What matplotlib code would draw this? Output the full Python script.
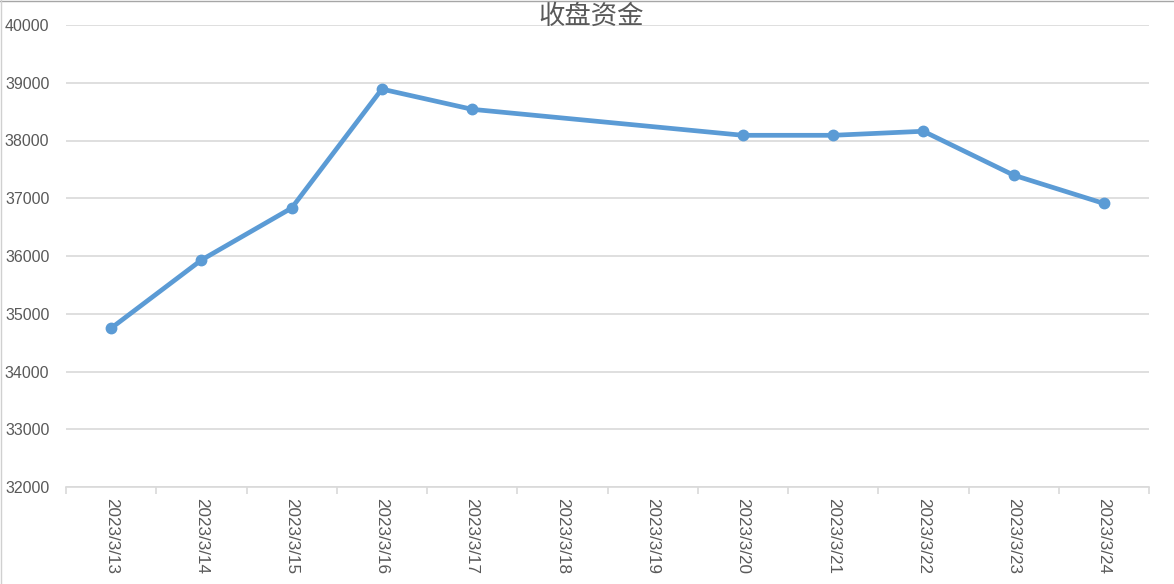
import matplotlib
matplotlib.use("Agg")
import matplotlib.pyplot as plt
from matplotlib.lines import Line2D
from matplotlib.ticker import FixedLocator, NullFormatter

plt.rcParams['font.family'] = ['Liberation Sans', 'Noto Sans CJK SC', 'DejaVu Sans']

title = "收盘资金"
dates = ["2023/3/13", "2023/3/14", "2023/3/15", "2023/3/16", "2023/3/17", "2023/3/18",
         "2023/3/19", "2023/3/20", "2023/3/21", "2023/3/22", "2023/3/23", "2023/3/24"]
values = [34750, 35930, 36830, 38890, 38540, None, None, 38090, 38090, 38160, 37400, 36910]
y_ticks = [32000, 33000, 34000, 35000, 36000, 37000, 38000, 39000, 40000]

W, H = 1174, 584
fig = plt.figure(figsize=(W / 100, H / 100), dpi=100)
ax = fig.add_axes([66 / W, 1 - 487 / H, (1149 - 66) / W, (487 - 25) / H])

xs = [i for i, v in enumerate(values) if v is not None]
ys = [v for v in values if v is not None]
ax.plot(xs, ys, color='#5b9bd5', linewidth=3.4, marker='o', markersize=7.5,
        solid_capstyle='round', solid_joinstyle='round', zorder=3)

ax.set_xlim(-0.5, len(dates) - 0.5)
ax.set_ylim(y_ticks[0], y_ticks[-1])
ax.set_yticks(y_ticks)
ax.set_yticklabels([str(t) for t in y_ticks])
ax.set_xticks(range(len(dates)))
ax.set_xticklabels(dates, rotation=-90, ha='center', va='top')
ax.xaxis.set_minor_locator(FixedLocator([i - 0.5 for i in range(len(dates) + 1)]))
ax.xaxis.set_minor_formatter(NullFormatter())

ax.grid(axis='y', color='#d9d9d9', linewidth=1.2, zorder=0)
for s in ['top', 'right', 'left']:
    ax.spines[s].set_visible(False)
ax.spines['bottom'].set_color('#d9d9d9')
ax.spines['bottom'].set_linewidth(1.2)

ax.tick_params(axis='y', length=0, pad=12, labelsize=11.5, labelcolor='#595959')
ax.tick_params(axis='x', which='major', length=0, pad=8, labelsize=12.3, labelcolor='#595959')
ax.tick_params(axis='x', which='minor', length=5, width=1.2, color='#d9d9d9')

fig.text(591 / W, 1 - 16 / H, title, ha='center', va='center', fontsize=19,
         color='#595959', family=['Noto Sans CJK SC', 'DejaVu Sans'])

fig.add_artist(Line2D([0, 1], [1 - 1 / H, 1 - 1 / H], transform=fig.transFigure,
                      color='#a6a6a6', linewidth=1))
fig.add_artist(Line2D([1 / W, 1 / W], [0, 1], transform=fig.transFigure,
                      color='#d0d0d0', linewidth=1))

fig.savefig("out.png", dpi=100)
